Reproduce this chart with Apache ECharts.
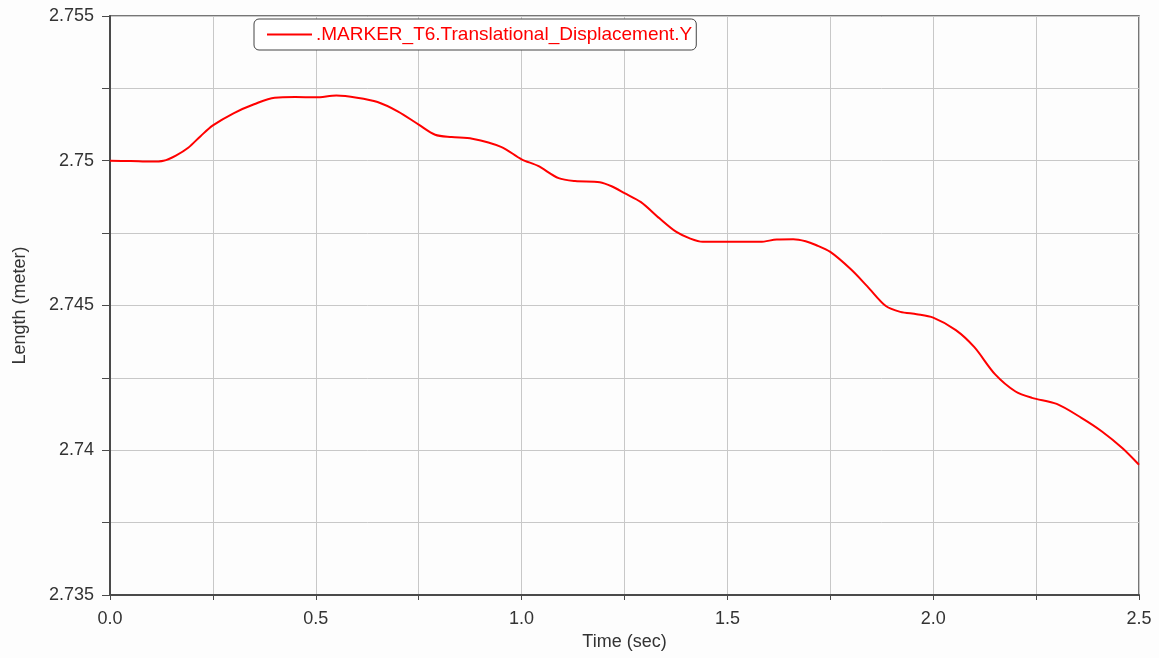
<!DOCTYPE html>
<html>
<head>
<meta charset="utf-8">
<script src="https://cdn.jsdelivr.net/npm/echarts@6/dist/echarts.min.js"></script>
<style>
  html, body { margin: 0; padding: 0; background: #fdfdfd; }
  #chart { width: 1159px; height: 658px; }
</style>
</head>
<body>
<div id="chart"></div>
<script>
// Marker T6 vertical translational displacement over time
const seriesName = '.MARKER_T6.Translational_Displacement.Y';
const times = [
  0, 0.05, 0.10, 0.13, 0.16, 0.19, 0.22, 0.25, 0.30, 0.35,
  0.40, 0.45, 0.50, 0.55, 0.60, 0.65, 0.70, 0.75, 0.79, 0.83,
  0.88, 0.95, 1.00, 1.04, 1.09, 1.13, 1.19, 1.22, 1.25, 1.29,
  1.335, 1.375, 1.41, 1.44, 1.50, 1.58, 1.62, 1.66, 1.69, 1.715,
  1.75, 1.80, 1.84, 1.885, 1.92, 1.96, 2.00, 2.055, 2.10, 2.15,
  2.20, 2.24, 2.30, 2.36, 2.41, 2.46, 2.50
];
const lengths = [
  2.75000, 2.74999, 2.74997, 2.75000, 2.75018, 2.75045, 2.75085, 2.75122, 2.75164, 2.75195,
  2.75218, 2.75220, 2.75219, 2.75225, 2.75218, 2.75203, 2.75170, 2.75125, 2.75090, 2.75082,
  2.75076, 2.75048, 2.75005, 2.74982, 2.74940, 2.74930, 2.74926, 2.74911, 2.74888, 2.74857,
  2.74801, 2.74755, 2.74731, 2.74720, 2.74720, 2.74720, 2.74728, 2.74729, 2.74722, 2.74709,
  2.74685, 2.74625, 2.74566, 2.74498, 2.74478, 2.74470, 2.74458, 2.74415, 2.74356, 2.74263,
  2.74203, 2.74181, 2.74160, 2.74112, 2.74065, 2.74007, 2.73950
];
const xMin = 0, xMax = 2.5, xStep = 0.25;
const yMin = 2.735, yMax = 2.755, yStep = 0.0025;

const points = times.map((t, i) => [t, lengths[i]]);

const font = 'Liberation Sans, Arial, sans-serif';
const axisColor = '#4a4a4a';
const textColor = '#333';

const chart = echarts.init(document.getElementById('chart'), null, { renderer: 'canvas' });
chart.setOption({
  backgroundColor: '#fdfdfd',
  animation: false,
  grid: {
    left: 110, right: 20, top: 16, bottom: 63,
    show: true, borderColor: axisColor, borderWidth: 1.5, backgroundColor: 'transparent'
  },
  legend: {
    data: [seriesName],
    left: 254, top: 19,
    icon: 'rect',
    itemWidth: 45, itemHeight: 2,
    padding: [6, 4, 6, 13],
    borderColor: '#444', borderWidth: 1, borderRadius: 5,
    backgroundColor: '#fff',
    textStyle: { color: '#ff0000', fontFamily: font, fontSize: 19, padding: [0, 0, 0, -1] }
  },
  xAxis: {
    type: 'value', min: xMin, max: xMax, interval: xStep,
    name: 'Time (sec)', nameLocation: 'middle', nameGap: 38,
    nameTextStyle: { color: textColor, fontFamily: font, fontSize: 18 },
    axisLine: { show: true, lineStyle: { color: axisColor, width: 2 } },
    axisTick: { show: true, length: 5, lineStyle: { color: axisColor } },
    axisLabel: {
      color: textColor, fontFamily: font, fontSize: 18, margin: 15,
      showMinLabel: true, showMaxLabel: true,
      formatter: v => (Math.round((v - xMin) / xStep) % 2 === 0 ? v.toFixed(1) : '')
    },
    splitLine: { show: true, lineStyle: { color: '#c8c8c8', width: 1 } }
  },
  yAxis: {
    type: 'value', min: yMin, max: yMax, interval: yStep,
    name: 'Length (meter)', nameLocation: 'middle', nameGap: 81, nameRotate: 90,
    nameTextStyle: { color: textColor, fontFamily: font, fontSize: 18 },
    axisLine: { show: true, lineStyle: { color: axisColor, width: 2 } },
    axisTick: { show: true, length: 8, lineStyle: { color: axisColor } },
    axisLabel: {
      color: textColor, fontFamily: font, fontSize: 18, margin: 16,
      showMinLabel: true, showMaxLabel: true,
      formatter: v => (Math.round((v - yMin) / yStep) % 2 === 0 ? String(parseFloat(v.toFixed(3))) : '')
    },
    splitLine: { show: true, lineStyle: { color: '#c8c8c8', width: 1 } }
  },
  series: [{
    name: seriesName,
    type: 'line',
    data: points,
    showSymbol: false,
    smooth: 0.3,
    color: '#ff0000',
    lineStyle: { color: '#ff0000', width: 2 }
  }]
});
</script>
</body>
</html>
